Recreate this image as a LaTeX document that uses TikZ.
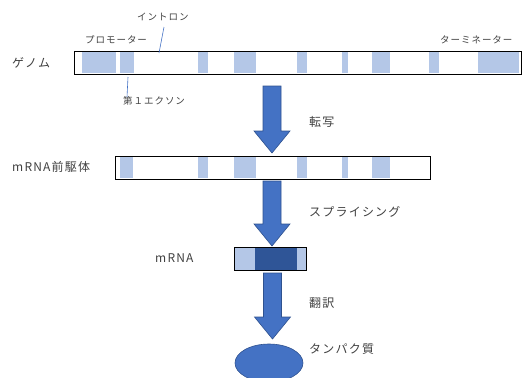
\documentclass[tikz,border=0pt]{standalone}
\usepackage{fontspec}
\usetikzlibrary{shapes.geometric}
\newfontfamily\jp[LetterSpace=10]{Noto Sans CJK JP}
\definecolor{lightb}{HTML}{B4C7E7}
\definecolor{midb}{HTML}{4472C4}
\definecolor{darkb}{HTML}{2F5597}
\definecolor{edgeb}{HTML}{2F528F}
\definecolor{txt}{HTML}{404040}
\tikzset{
  bigtext/.style={font=\jp\fontsize{12}{14}\selectfont, text=txt, inner sep=0pt, anchor=west},
  smalltext/.style={font=\jp\fontsize{9.5}{11}\selectfont, text=txt, inner sep=0pt, anchor=west},
  barbox/.style={draw=black, line width=1.2pt},
  exon/.style={fill=lightb, draw=none},
  blockarrow/.style={fill=midb, draw=edgeb, line width=0.6pt, line join=miter},
  pointer/.style={draw=midb, line width=0.6pt}
}
\newcommand{\blockarr}[3]{% center x, top y, tip y
  \draw[blockarrow] (#1-9,#2) -- (#1+9,#2) -- (#1+9,#3-22) -- (#1+18,#3-22) -- (#1,#3) -- (#1-18,#3-22) -- (#1-9,#3-22) -- cycle;
}
\begin{document}
\begin{tikzpicture}[x=1pt,y=-1pt]
\useasboundingbox (0,0) rectangle (523,378);
% genome
\foreach \a/\b in {82/116,120/134,198/208,234/256,297/307,342/348,372/390,429/439,478/519}
  \fill[exon] (\a,52) rectangle (\b,73);
\node[barbox, draw, minimum width=447pt, minimum height=23pt, inner sep=0pt, anchor=north west] (genome) at (73.5,51) {};
\node[bigtext] (lgenome) at (12,63) {ゲノム};
\node[smalltext] (lprom) at (85,40) {プロモーター};
\node[smalltext] (lintron) at (137,17) {イントロン};
\node[smalltext] (lterm) at (440,40) {ターミネーター};
\node[smalltext] (lexon) at (123,101) {第１エクソン};
\coordinate (pi1) at (164,27);
\coordinate (pi2) at (159,53);
\draw[pointer] (pi1) -- (pi2);
\coordinate (pe1) at (128,77);
\coordinate (pe2) at (127,97);
\draw[pointer] (pe1) -- (pe2);
% arrow 1
\blockarr{272}{86}{153}
\node[bigtext] (ltrans) at (309,122) {転写};
% precursor
\foreach \a/\b in {120/133,198/208,234/256,297/307,342/348,372/390}
  \fill[exon] (\a,157) rectangle (\b,178);
\node[barbox, draw, minimum width=315pt, minimum height=23pt, inner sep=0pt, anchor=north west] (pre) at (115,156) {};
\node[bigtext] (lpre) at (12,167) {mRNA前駆体};
% arrow 2
\blockarr{272}{181}{246}
\node[bigtext] (lspl) at (309,212) {スプライシング};
% mRNA
\fill[exon] (234,247) rectangle (306,270);
\fill[darkb] (255,247) rectangle (297,270);
\node[draw=black, line width=1pt, minimum width=72pt, minimum height=23pt, inner sep=0pt, anchor=north west] (mrna) at (234,247) {};
\node[bigtext] (lmrna) at (155,258) {mRNA};
% arrow 3
\blockarr{272.5}{273}{339}
\node[bigtext] (ltl) at (309,303) {翻訳};
% protein
\node[ellipse, fill=midb, draw=edgeb, line width=0.6pt, minimum width=68pt, minimum height=38pt, inner sep=0pt] (prot) at (269,363) {};
\node[bigtext] (lprot) at (309,349) {タンパク質};
\end{tikzpicture}
\end{document}
